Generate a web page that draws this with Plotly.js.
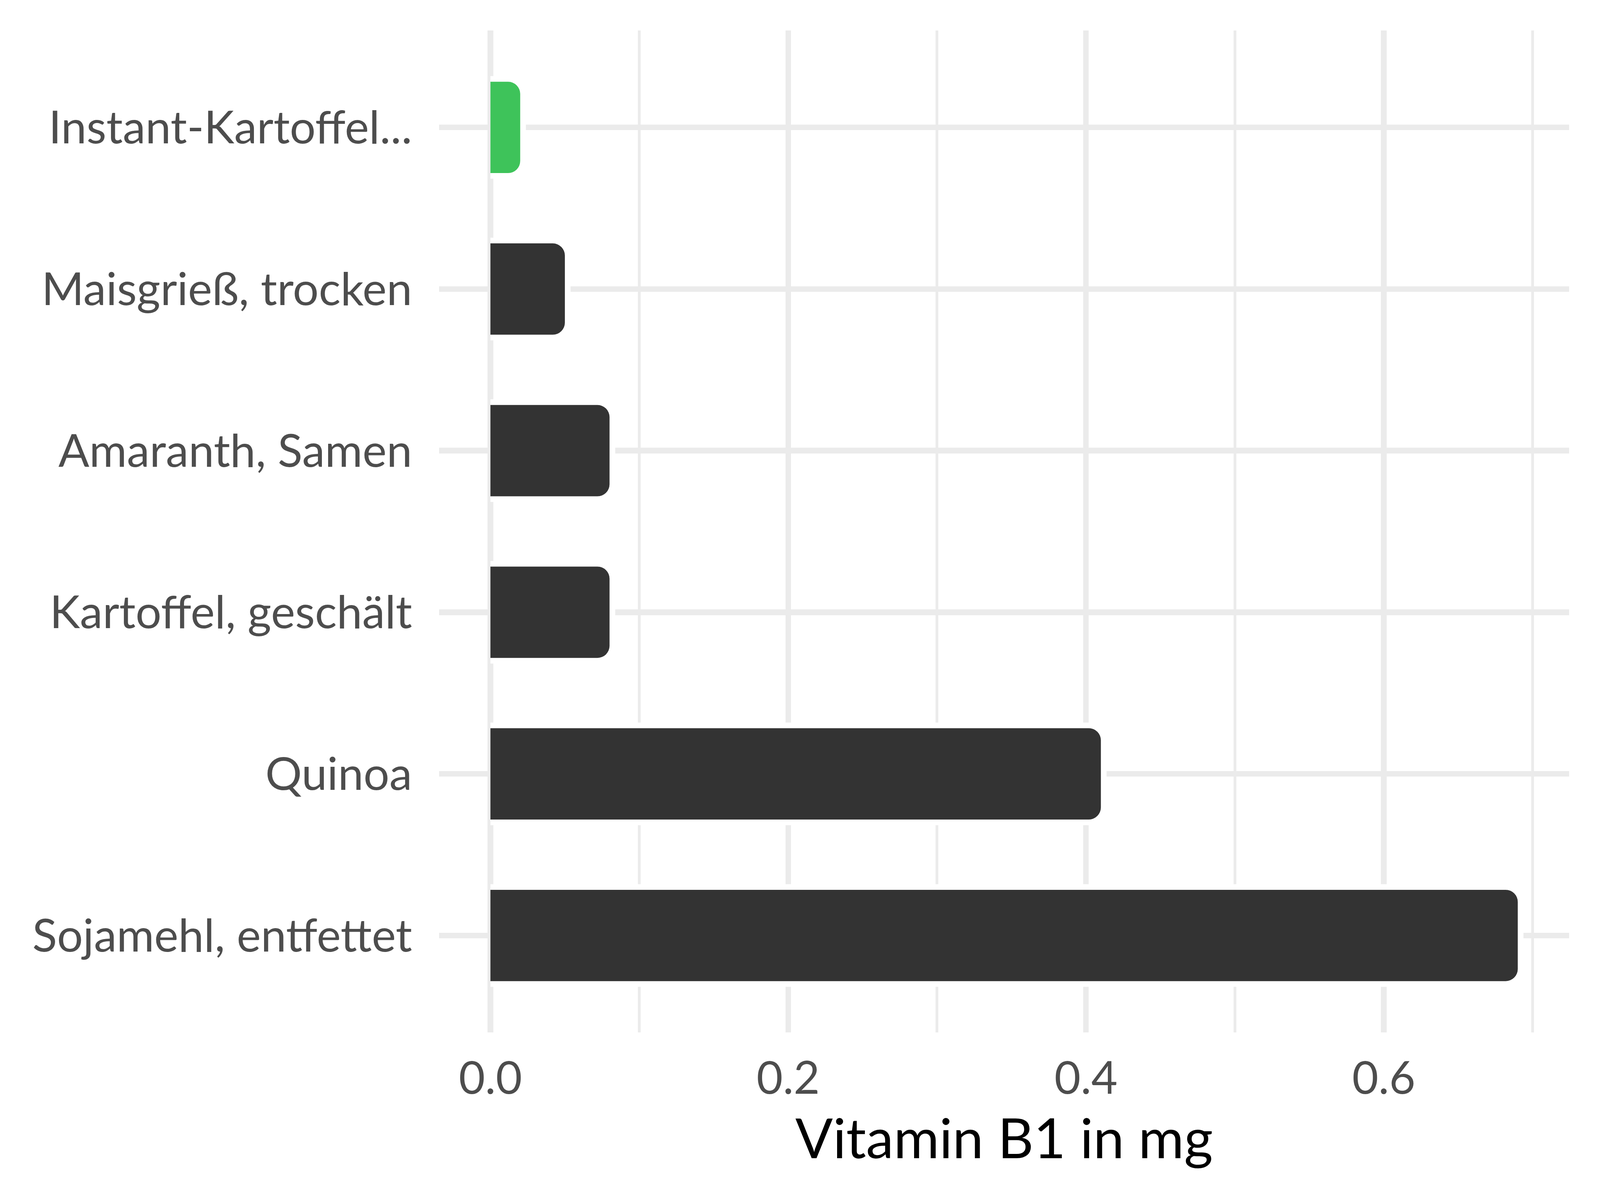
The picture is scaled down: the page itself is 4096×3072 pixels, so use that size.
<!DOCTYPE html>
<html>
<head>
<meta charset="utf-8">
<script src="https://cdn.plot.ly/plotly-3.0.1.min.js"></script>
<style>html,body{margin:0;padding:0;background:#fff;}#chart{width:4096px;height:3072px;}</style>
</head>
<body>
<div id="chart"></div>
<script>
// Data (top to bottom as shown)
const categories = ["Instant-Kartoffel...", "Maisgrieß, trocken", "Amaranth, Samen", "Kartoffel, geschält", "Quinoa", "Sojamehl, entfettet"];
const values = [0.02, 0.05, 0.08, 0.08, 0.41, 0.69];
const barColors = ["#3EC35A", "#333333", "#333333", "#333333", "#333333", "#333333"];
const xTickValues = [0.0, 0.2, 0.4, 0.6];
const xTitle = "Vitamin B1 in mg";

const FONT = "Lato, 'Open Sans', 'DejaVu Sans', sans-serif";

// white halo behind each bar (slightly taller bar + a white cap at the bar end)
const halo = {
  type: "bar", orientation: "h",
  x: values, y: categories,
  width: 0.635,
  marker: { color: "#FFFFFF", line: { width: 0 } },
  error_x: { type: "constant", value: 0, visible: true, color: "#FFFFFF", thickness: 29, width: 131 },
  hoverinfo: "skip", showlegend: false
};
const bars = {
  type: "bar", orientation: "h",
  x: values, y: categories,
  width: 0.565,
  marker: { color: barColors, line: { width: 0 }, cornerradius: 31 },
  showlegend: false
};

const layout = {
  width: 4096, height: 3072,
  margin: { l: 1124, r: 79, t: 78, b: 429, pad: 0 },
  paper_bgcolor: "#FFFFFF", plot_bgcolor: "#FFFFFF",
  barmode: "overlay",
  showlegend: false,
  font: { family: FONT, color: "#4D4D4D" },
  xaxis: {
    range: [-0.0345, 0.7245],
    tickmode: "array", tickvals: xTickValues,
    ticktext: xTickValues.map(v => v.toFixed(1)),
    showgrid: true, gridcolor: "#EBEBEB", gridwidth: 14.5,
    minor: { tickmode: "linear", tick0: 0, dtick: 0.1, showgrid: true, gridcolor: "#EBEBEB", gridwidth: 7, ticks: "" },
    zeroline: false, showline: false, ticks: "",
    ticklabelstandoff: 40,
    tickfont: { family: FONT, size: 116, color: "#4D4D4D" },
    title: { text: xTitle, font: { family: FONT, size: 142, color: "#000000" }, standoff: 40 },
    automargin: false, fixedrange: true
  },
  yaxis: {
    type: "category",
    categoryorder: "array", categoryarray: categories,
    range: [5.6, -0.6],
    showgrid: true, gridcolor: "#EBEBEB", gridwidth: 14.5,
    zeroline: false, showline: false, ticks: "",
    ticklabelstandoff: 68,
    tickfont: { family: FONT, size: 117, color: "#4D4D4D" },
    automargin: false, fixedrange: true
  }
};

Plotly.newPlot("chart", [halo, bars], layout, { staticPlot: true, displayModeBar: false });
</script>
</body>
</html>
